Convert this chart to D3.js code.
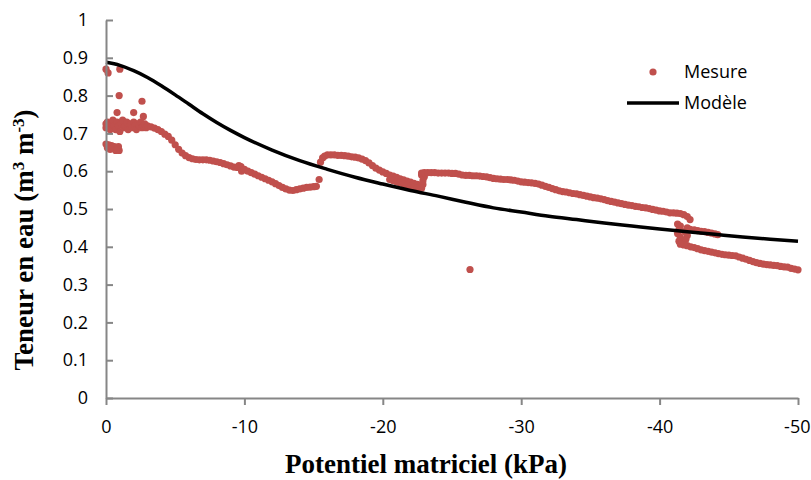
<!DOCTYPE html>
<html>
<head>
<meta charset="utf-8">
<script src="https://cdn.jsdelivr.net/npm/d3@7"></script>
<style>
  html, body { margin: 0; padding: 0; background: #fff; }
  svg { display: block; }
</style>
</head>
<body>
<svg id="chart" width="811" height="480"></svg>
<script>
// ---------- DATA ----------
const xTicks = [0, -10, -20, -30, -40, -50];
const yTicks = [0, 0.1, 0.2, 0.3, 0.4, 0.5, 0.6, 0.7, 0.8, 0.9, 1];
const xTitle = "Potentiel matriciel (kPa)";
const legendLabels = ["Mesure", "Modèle"];

// Modèle (potentiel kPa, teneur en eau)
const modelPotentiel = [0, -1, -2, -3, -4, -5, -6, -7, -8, -9, -10, -12, -14, -16, -18, -20, -22, -24, -26, -28, -30, -32, -34, -36, -38, -40, -42, -44, -46, -48, -50];
const modelTeneur   = [0.888, 0.880, 0.866, 0.848, 0.826, 0.802, 0.777, 0.752, 0.729, 0.708, 0.689, 0.656, 0.628, 0.605, 0.584, 0.566, 0.549, 0.534, 0.518, 0.503, 0.492, 0.481, 0.472, 0.463, 0.455, 0.447, 0.440, 0.433, 0.426, 0.420, 0.415];

// Mesure : points isolés près de 0
const mesureIsoles = [[0,0.87],[-0.15,0.86],[-1.0,0.87],[-0.95,0.80],[-2.6,0.785],[-0.8,0.755],[-2.0,0.755],[-2.7,0.745],[-26.3,0.34]];
// Mesure : amas à 0.66
const mesureAmasBas = [[0,0.672],[-0.2,0.67],[-0.4,0.668],[-0.6,0.665],[-0.8,0.66],[-0.95,0.655],[-0.9,0.665],[-0.7,0.655],[-0.1,0.662],[-0.3,0.658]];
// Mesure : amas à 0.72
const mesureAmas = [[0,0.725],[0,0.715],[-0.1,0.73],[-0.2,0.72],[-0.3,0.71],[-0.4,0.725],[-0.5,0.735],[-0.6,0.72],[-0.7,0.71],[-0.8,0.73],[-0.9,0.72],[-1.0,0.705],[-1.1,0.725],[-1.2,0.735],[-1.3,0.715],[-1.4,0.72],[-1.5,0.73],[-1.6,0.71],[-1.7,0.72],[-1.8,0.725],[-1.9,0.715],[-2.0,0.73],[-2.1,0.72],[-2.2,0.71],[-2.3,0.725],[-2.4,0.72],[-2.5,0.73],[-2.6,0.715],[-2.7,0.72],[-2.8,0.725],[-2.9,0.715],[-3.0,0.72]];
// Mesure : trace de -3 à -15.4 kPa
const mesureTrace1 = [[-3.25,0.717],[-3.5,0.714],[-3.75,0.71],[-4.0,0.705],[-4.25,0.698],[-4.5,0.692],[-4.75,0.682],[-5.0,0.67],[-5.25,0.658],[-5.5,0.648],[-5.75,0.641],[-6.0,0.636],[-6.25,0.633],[-6.5,0.631],[-6.75,0.63],[-7.0,0.63],[-7.25,0.63],[-7.5,0.629],[-7.75,0.627],[-8.0,0.625],[-8.25,0.623],[-8.5,0.62],[-8.75,0.617],[-9.0,0.614],[-9.25,0.611],[-9.5,0.61],[-9.6,0.615],[-9.75,0.612],[-9.8,0.6],[-10.0,0.605],[-10.25,0.6],[-10.5,0.596],[-10.75,0.592],[-11.0,0.588],[-11.25,0.584],[-11.5,0.58],[-11.75,0.576],[-12.0,0.572],[-12.25,0.567],[-12.5,0.562],[-12.75,0.557],[-13.0,0.553],[-13.25,0.55],[-13.5,0.549],[-13.75,0.551],[-14.0,0.553],[-14.25,0.555],[-14.5,0.557],[-14.75,0.558],[-15.0,0.559],[-15.2,0.56],[-15.4,0.578]];
// Mesure : trace de -15.5 à -23 kPa
const mesureTrace2 = [[-15.5,0.624],[-15.65,0.635],[-15.8,0.64],[-16.0,0.643],[-16.25,0.643],[-16.5,0.643],[-16.75,0.642],[-17.0,0.642],[-17.25,0.641],[-17.5,0.64],[-17.75,0.638],[-18.0,0.637],[-18.25,0.635],[-18.5,0.632],[-18.75,0.628],[-19.0,0.622],[-19.25,0.615],[-19.5,0.608],[-19.75,0.603],[-20.0,0.598],[-20.25,0.594],[-20.5,0.59],[-20.75,0.587],[-21.0,0.584],[-21.25,0.58],[-21.5,0.577],[-21.75,0.574],[-22.0,0.571],[-22.25,0.568],[-22.5,0.565],[-22.7,0.56],[-20.5,0.578],[-20.75,0.575],[-21.0,0.572],[-21.25,0.569],[-21.5,0.566],[-21.75,0.563],[-22.0,0.56],[-22.25,0.558],[-22.5,0.556],[-22.8,0.555],[-22.9,0.565],[-22.9,0.575],[-23.0,0.585],[-22.8,0.59]];
// Mesure : trace de -22.8 à -42.2 kPa
const mesureTrace3 = [[-22.8,0.595],[-23.0,0.596],[-23.25,0.596],[-23.5,0.596],[-23.75,0.596],[-24.0,0.595],[-24.25,0.595],[-24.5,0.595],[-24.75,0.595],[-25.0,0.594],[-25.25,0.594],[-25.5,0.592],[-25.75,0.59],[-26.0,0.589],[-26.25,0.589],[-26.5,0.588],[-26.75,0.588],[-27.0,0.587],[-27.25,0.586],[-27.5,0.585],[-27.75,0.583],[-28.0,0.581],[-28.25,0.58],[-28.5,0.579],[-28.75,0.578],[-29.0,0.578],[-29.25,0.577],[-29.5,0.576],[-29.75,0.574],[-30.0,0.572],[-30.25,0.571],[-30.5,0.57],[-30.75,0.569],[-31.0,0.568],[-31.25,0.566],[-31.5,0.563],[-31.75,0.56],[-32.0,0.557],[-32.25,0.554],[-32.5,0.551],[-32.75,0.548],[-33.0,0.546],[-33.25,0.545],[-33.5,0.543],[-33.75,0.541],[-34.0,0.54],[-34.25,0.538],[-34.5,0.536],[-34.75,0.534],[-35.0,0.532],[-35.25,0.53],[-35.5,0.529],[-35.75,0.527],[-36.0,0.525],[-36.25,0.522],[-36.5,0.52],[-36.75,0.518],[-37.0,0.516],[-37.25,0.514],[-37.5,0.512],[-37.75,0.51],[-38.0,0.509],[-38.25,0.507],[-38.5,0.506],[-38.75,0.504],[-39.0,0.503],[-39.25,0.501],[-39.5,0.499],[-39.75,0.497],[-40.0,0.495],[-40.25,0.494],[-40.5,0.492],[-40.75,0.49],[-41.0,0.49],[-41.25,0.489],[-41.5,0.488],[-41.75,0.485],[-42.0,0.48],[-42.2,0.472]];
// Mesure : amas vertical vers -41.5 kPa et branche de retour
const mesureAmas42 = [[-41.3,0.46],[-41.5,0.455],[-41.4,0.445],[-41.3,0.435],[-41.5,0.425],[-41.4,0.415],[-41.6,0.41],[-41.8,0.44],[-42.0,0.45],[-42.0,0.43],[-41.9,0.42],[-42.2,0.446],[-42.5,0.445],[-42.75,0.443],[-43.0,0.441],[-43.25,0.44],[-43.5,0.438],[-43.75,0.436],[-44.0,0.434],[-44.2,0.432]];
// Mesure : branche basse de -41.5 à -50 kPa
const mesureTrace4 = [[-41.5,0.407],[-41.75,0.405],[-42.0,0.403],[-42.25,0.4],[-42.5,0.398],[-42.75,0.395],[-43.0,0.392],[-43.25,0.39],[-43.5,0.388],[-43.75,0.386],[-44.0,0.384],[-44.25,0.382],[-44.5,0.38],[-44.75,0.379],[-45.0,0.378],[-45.25,0.377],[-45.5,0.376],[-45.75,0.373],[-46.0,0.37],[-46.25,0.367],[-46.5,0.364],[-46.75,0.361],[-47.0,0.358],[-47.25,0.356],[-47.5,0.354],[-47.75,0.353],[-48.0,0.352],[-48.25,0.351],[-48.5,0.35],[-48.75,0.348],[-49.0,0.347],[-49.25,0.346],[-49.5,0.343],[-49.75,0.341],[-50.0,0.339]];

// ---------- DRAW ----------
const svg = d3.select("#chart");
const plotLeft = 106, plotRight = 798, plotTop = 20, plotBottom = 398;
const axisColor = "#868686";
const markColor = "#C0504D";
const tickFont = "'Open Sans', 'Noto Sans', sans-serif";
const titleFont = "'Liberation Serif', 'Times New Roman', serif";

const x = d3.scaleLinear().domain([0, -50]).range([plotLeft, plotRight]);
const y = d3.scaleLinear().domain([0, 1]).range([plotBottom, plotTop]);

// Mesure points
const mesure = [].concat(mesureIsoles, mesureAmasBas, mesureAmas, mesureTrace1, mesureTrace2, mesureTrace3, mesureAmas42, mesureTrace4);
svg.append("g").selectAll("circle").data(mesure).join("circle")
  .attr("cx", d => x(d[0])).attr("cy", d => y(d[1])).attr("r", 3.6)
  .attr("fill", markColor);

// Modèle line
const model = modelPotentiel.map((p, i) => [p, modelTeneur[i]]);
svg.append("path").datum(model)
  .attr("fill", "none").attr("stroke", "#000").attr("stroke-width", 3.5)
  .attr("d", d3.line().x(d => x(d[0])).y(d => y(d[1])).curve(d3.curveMonotoneX));

// X axis
const gx = svg.append("g").attr("transform", `translate(0,${plotBottom})`)
  .call(d3.axisBottom(x).tickValues(xTicks).tickSize(7).tickSizeOuter(0).tickPadding(15).tickFormat(d => String(d)));
gx.select(".domain").attr("stroke", axisColor).attr("stroke-width", 2);
gx.selectAll(".tick line").attr("stroke", axisColor).attr("stroke-width", 2);
gx.selectAll(".tick text").attr("font-family", tickFont).attr("font-size", 18).attr("fill", "#000");
gx.selectAll(".tick text").filter(d => d === -50).attr("text-anchor", "end").attr("dx", "12");

// Y axis (ticks inside)
const gy = svg.append("g").attr("transform", `translate(${plotLeft},0)`)
  .call(d3.axisLeft(y).tickValues(yTicks).tickSize(-7).tickSizeOuter(0).tickPadding(18).tickFormat(d => String(+d.toFixed(1))));
gy.select(".domain").attr("stroke", axisColor).attr("stroke-width", 2);
gy.selectAll(".tick line").attr("stroke", axisColor).attr("stroke-width", 2);
gy.selectAll(".tick text").attr("font-family", tickFont).attr("font-size", 18).attr("fill", "#000");

// Axis titles
svg.append("text").attr("x", 426).attr("y", 473).attr("text-anchor", "middle")
  .attr("font-family", titleFont).attr("font-weight", "bold").attr("font-size", 27)
  .text(xTitle);

const yt = svg.append("text").attr("transform", "translate(33,240) rotate(-90)").attr("text-anchor", "middle")
  .attr("font-family", titleFont).attr("font-weight", "bold").attr("font-size", 27);
yt.append("tspan").text("Teneur en eau (m");
yt.append("tspan").attr("baseline-shift", "super").attr("font-size", 17).text("3");
yt.append("tspan").text(" m");
yt.append("tspan").attr("baseline-shift", "super").attr("font-size", 17).text("-3");
yt.append("tspan").text(")");

// Legend
const lg = svg.append("g");
lg.append("circle").attr("cx", 653).attr("cy", 72).attr("r", 3.6).attr("fill", markColor);
lg.append("line").attr("x1", 627).attr("x2", 679).attr("y1", 103).attr("y2", 103).attr("stroke", "#000").attr("stroke-width", 3.5);
lg.selectAll("text.lab").data(legendLabels).join("text").attr("class", "lab")
  .attr("x", 684).attr("y", (d, i) => 72 + i * 31).attr("dy", "0.35em")
  .attr("font-family", tickFont).attr("font-size", 18).attr("fill", "#000").text(d => d);
</script>
</body>
</html>
